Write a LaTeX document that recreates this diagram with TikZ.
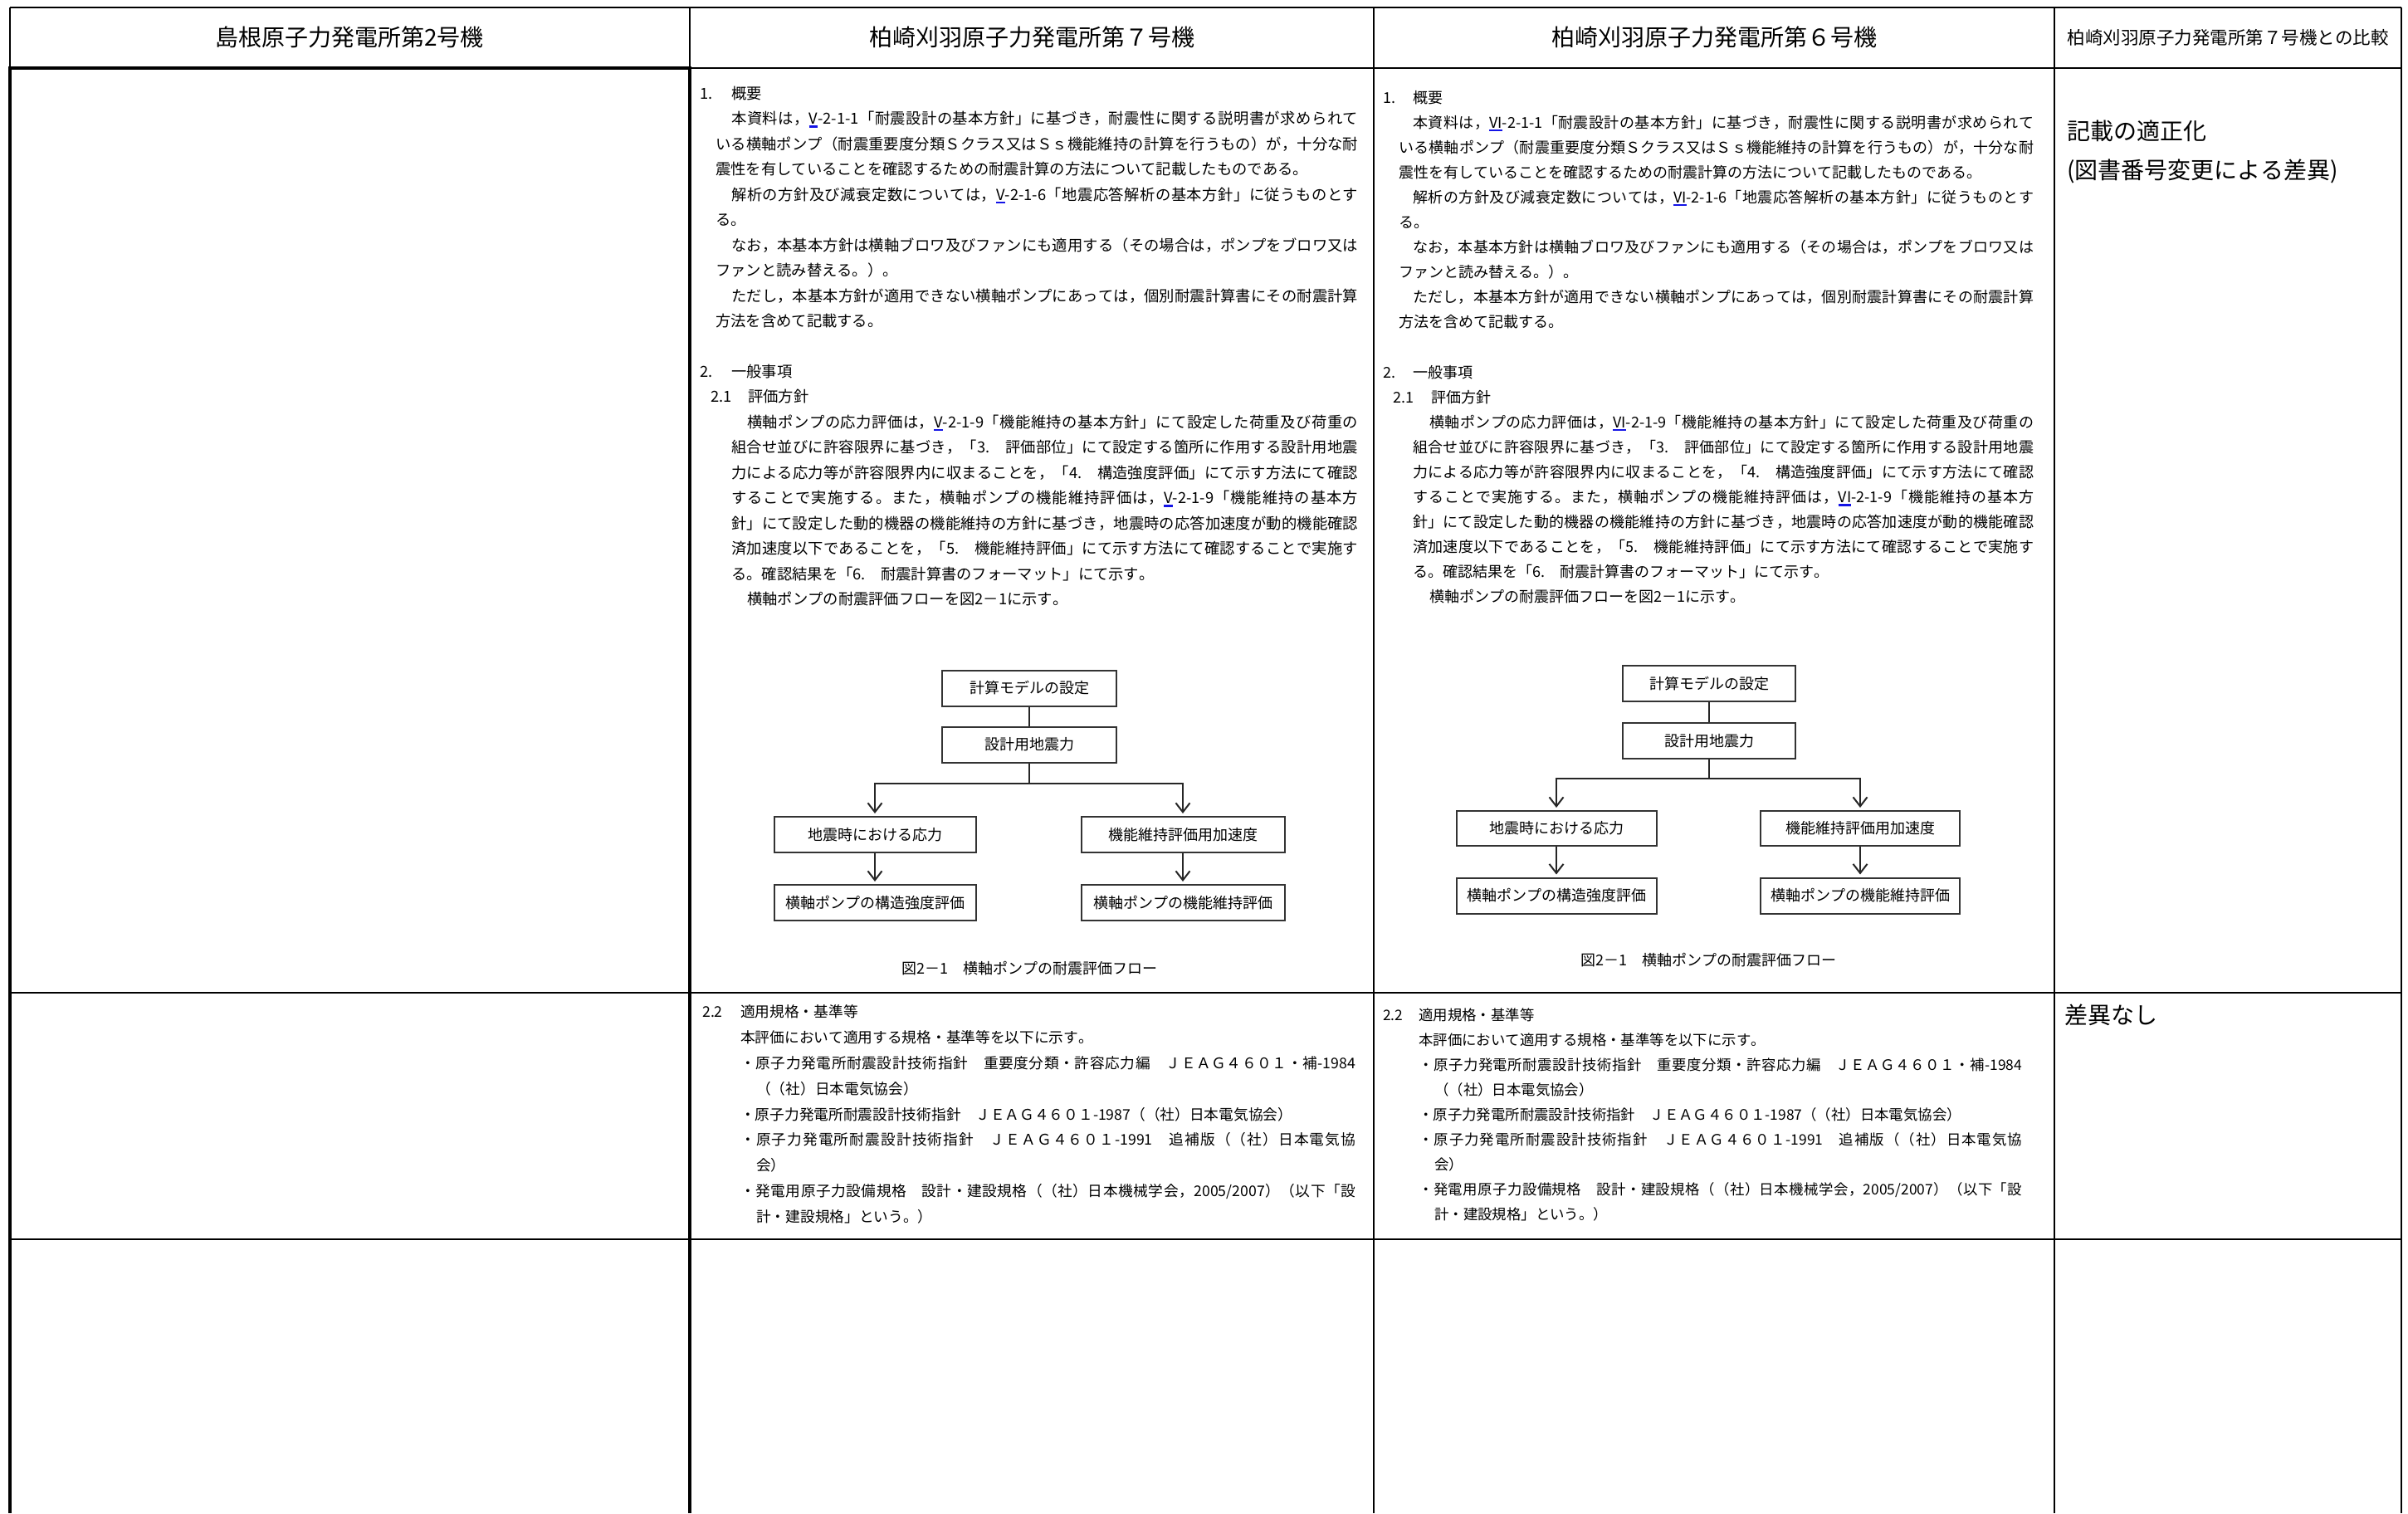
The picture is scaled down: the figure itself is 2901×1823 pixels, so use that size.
\documentclass[tikz,border=0pt]{standalone}
\usepackage{fontspec}
\setmainfont{Noto Sans CJK JP}
\usetikzlibrary{arrows.meta}
\newcount\cjkc
\newcommand\cjkrange[2]{\cjkc=#1\relax
  \loop \XeTeXcharclass\cjkc=7 \advance\cjkc by 1 \ifnum\cjkc<#2 \repeat}
\cjkrange{"3000}{"3100}
\cjkrange{"4E00}{"A000}
\cjkrange{"FF00}{"FFF0}
\XeTeXinterchartokenstate=1
\newcommand\cjkglue{\hskip0pt plus 4pt\relax}
\XeTeXinterchartoks 7 7 = {\cjkglue}
\XeTeXinterchartoks 0 7 = {\cjkglue}
\XeTeXinterchartoks 7 0 = {\cjkglue}
\definecolor{ublue}{RGB}{20,20,230}
\newsavebox\ubox
\newcommand\bu[1]{\sbox\ubox{#1}\rlap{\textcolor{ublue}{\rule[-4pt]{\wd\ubox}{2.6pt}}}\usebox\ubox}
\newcommand\jl[2]{\hbox to #1pt{#2}}
\tikzset{
  tline/.style={line width=2.2pt, black},
  tthick/.style={line width=4.6pt, black},
  hdr/.style={inner sep=0pt, font=\fontsize{28}{34}\selectfont},
  hdrs/.style={inner sep=0pt, font=\fontsize{21.5}{26}\selectfont},
  note/.style={anchor=west, inner sep=0pt, font=\fontsize{28}{34}\selectfont},
  txtA/.style={anchor=north west, inner sep=0pt, align=left, font=\fontsize{18.3}{30.5}\selectfont},
  txtB/.style={anchor=north west, inner sep=0pt, align=left, font=\fontsize{17.7}{30.8}\selectfont},
  txtC/.style={anchor=north west, inner sep=0pt, align=left, font=\fontsize{18}{30.1}\selectfont},
  txtD/.style={anchor=north west, inner sep=0pt, align=left, font=\fontsize{17.4}{30}\selectfont},
  fbox/.style={draw=black!80, line width=2pt, inner sep=0pt, minimum height=43pt, font=\fontsize{18}{22}\selectfont},
  figcap/.style={inner sep=0pt, font=\fontsize{18}{22}\selectfont},
  link/.style={line width=2pt, black!85},
  arr/.style={link, -{Straight Barb[length=11pt,width=17pt,line width=2pt]}, shorten >=3pt},
}
\begin{document}
\begin{tikzpicture}[x=1pt,y=-1pt]
\useasboundingbox (0,0) rectangle (2901,1823);
\fill[white] (0,0) rectangle (2901,1823);

% ---------- table grid ----------
\draw[tline] (12,9) -- (2893,9);
\draw[tline] (831,82) -- (2893,82);
\draw[tline] (12,9) -- (12,82);
\draw[tline] (831,9) -- (831,82);
\draw[tline] (1655,9) -- (1655,1823);
\draw[tline] (2475,9) -- (2475,1823);
\draw[tline] (2893,9) -- (2893,1823);
\draw[tline] (12,1196) -- (2893,1196);
\draw[tline] (12,1493) -- (2893,1493);
\draw[tthick] (10,82) -- (833,82);
\draw[tthick] (12,80) -- (12,1823);
\draw[tthick] (831,80) -- (831,1823);

% ---------- headers ----------
\node[hdr] (h1) at (421,45) {島根原子力発電所第2号機};
\node[hdr] (h2) at (1243,45) {柏崎刈羽原子力発電所第７号機};
\node[hdr] (h3) at (2065,45) {柏崎刈羽原子力発電所第６号機};
\node[hdrs] (h4) at (2684,45) {柏崎刈羽原子力発電所第７号機との比較};

% ---------- column 2 (KK7) ----------
\node[txtA] (s1a) at (843,97.6) {%
\strut\makebox[38pt][l]{1.}概要\\
\strut\hspace*{38pt}\jl{755}{本資料は，\bu{V}-2-1-1「耐震設計の基本方針」に基づき，耐震性に関する説明書が求められて}\\
\strut\hspace*{19pt}\jl{774}{いる横軸ポンプ（耐震重要度分類Ｓクラス又はＳｓ機能維持の計算を行うもの）が，十分な耐}\\
\strut\hspace*{19pt}震性を有していることを確認するための耐震計算の方法について記載したものである。\\
\strut\hspace*{38pt}\jl{755}{解析の方針及び減衰定数については，\bu{V}-2-1-6「地震応答解析の基本方針」に従うものとす}\\
\strut\hspace*{19pt}る。\\
\strut\hspace*{38pt}\jl{755}{なお，本基本方針は横軸ブロワ及びファンにも適用する（その場合は，ポンプをブロワ又は}\\
\strut\hspace*{19pt}ファンと読み替える。）。\\
\strut\hspace*{38pt}\jl{755}{ただし，本基本方針が適用できない横軸ポンプにあっては，個別耐震計算書にその耐震計算}\\
\strut\hspace*{19pt}方法を含めて記載する。};

\node[txtA] (s2a) at (843,432.6) {%
\strut\makebox[38pt][l]{2.}一般事項\\
\strut\hspace*{13pt}\makebox[45pt][l]{2.1}評価方針\\
\strut\hspace*{57pt}\jl{736}{横軸ポンプの応力評価は，\bu{V}-2-1-9「機能維持の基本方針」にて設定した荷重及び荷重の}\\
\strut\hspace*{38pt}\jl{755}{組合せ並びに許容限界に基づき，「3.　評価部位」にて設定する箇所に作用する設計用地震}\\
\strut\hspace*{38pt}\jl{755}{力による応力等が許容限界内に収まることを，「4.　構造強度評価」にて示す方法にて確認}\\
\strut\hspace*{38pt}\jl{755}{することで実施する。また，横軸ポンプの機能維持評価は，\bu{V}-2-1-9「機能維持の基本方}\\
\strut\hspace*{38pt}\jl{755}{針」にて設定した動的機器の機能維持の方針に基づき，地震時の応答加速度が動的機能確認}\\
\strut\hspace*{38pt}\jl{755}{済加速度以下であることを，「5.　機能維持評価」にて示す方法にて確認することで実施す}\\
\strut\hspace*{38pt}る。確認結果を「6.　耐震計算書のフォーマット」にて示す。\\
\strut\hspace*{57pt}横軸ポンプの耐震評価フローを図2－1に示す。};

\node[fbox, minimum width=210pt] (a1) at (1240,829) {計算モデルの設定};
\node[fbox, minimum width=210pt] (a2) at (1240,897) {設計用地震力};
\node[fbox, minimum width=243pt] (a3) at (1054,1005.5) {地震時における応力};
\node[fbox, minimum width=245pt] (a4) at (1425,1005.5) {機能維持評価用加速度};
\node[fbox, minimum width=243pt] (a5) at (1054,1087.5) {横軸ポンプの構造強度評価};
\node[fbox, minimum width=245pt] (a6) at (1425,1087.5) {横軸ポンプの機能維持評価};
\coordinate (aj) at (1240,944);
\draw[link] (a1) -- (a2);
\draw[link] (a2) -- (aj);
\draw[arr] (aj) -| (a3);
\draw[arr] (aj) -| (a4);
\draw[arr] (a3) -- (a5);
\draw[arr] (a4) -- (a6);
\node[figcap] (acap) at (1240,1167) {図2－1　横軸ポンプの耐震評価フロー};

\node[txtB] (s3a) at (846,1204.2) {%
\strut\makebox[46pt][l]{2.2}適用規格・基準等\\
\strut\hspace*{46pt}本評価において適用する規格・基準等を以下に示す。\\
\strut\hspace*{46pt}\jl{741}{・原子力発電所耐震設計技術指針　重要度分類・許容応力編　ＪＥＡＧ４６０１・補-1984}\\
\strut\hspace*{65pt}（（社）日本電気協会）\\
\strut\hspace*{46pt}・原子力発電所耐震設計技術指針　ＪＥＡＧ４６０１-1987（（社）日本電気協会）\\
\strut\hspace*{46pt}\jl{741}{・原子力発電所耐震設計技術指針　ＪＥＡＧ４６０１-1991　追補版（（社）日本電気協}\\
\strut\hspace*{65pt}会）\\
\strut\hspace*{46pt}\jl{741}{・発電用原子力設備規格　設計・建設規格（（社）日本機械学会，2005/2007）（以下「設}\\
\strut\hspace*{65pt}計・建設規格」という。）};

% ---------- column 3 (KK6) ----------
\node[txtC] (s1b) at (1666,102.8) {%
\strut\makebox[36pt][l]{1.}概要\\
\strut\hspace*{36pt}\jl{748}{本資料は，\bu{VI}-2-1-1「耐震設計の基本方針」に基づき，耐震性に関する説明書が求められて}\\
\strut\hspace*{19pt}\jl{765}{いる横軸ポンプ（耐震重要度分類Ｓクラス又はＳｓ機能維持の計算を行うもの）が，十分な耐}\\
\strut\hspace*{19pt}震性を有していることを確認するための耐震計算の方法について記載したものである。\\
\strut\hspace*{36pt}\jl{748}{解析の方針及び減衰定数については，\bu{VI}-2-1-6「地震応答解析の基本方針」に従うものとす}\\
\strut\hspace*{19pt}る。\\
\strut\hspace*{36pt}\jl{748}{なお，本基本方針は横軸ブロワ及びファンにも適用する（その場合は，ポンプをブロワ又は}\\
\strut\hspace*{19pt}ファンと読み替える。）。\\
\strut\hspace*{36pt}\jl{748}{ただし，本基本方針が適用できない横軸ポンプにあっては，個別耐震計算書にその耐震計算}\\
\strut\hspace*{19pt}方法を含めて記載する。};

\node[txtC] (s2b) at (1666,433.8) {%
\strut\makebox[36pt][l]{2.}一般事項\\
\strut\hspace*{12pt}\makebox[46pt][l]{2.1}評価方針\\
\strut\hspace*{56pt}\jl{728}{横軸ポンプの応力評価は，\bu{VI}-2-1-9「機能維持の基本方針」にて設定した荷重及び荷重の}\\
\strut\hspace*{36pt}\jl{748}{組合せ並びに許容限界に基づき，「3.　評価部位」にて設定する箇所に作用する設計用地震}\\
\strut\hspace*{36pt}\jl{748}{力による応力等が許容限界内に収まることを，「4.　構造強度評価」にて示す方法にて確認}\\
\strut\hspace*{36pt}\jl{748}{することで実施する。また，横軸ポンプの機能維持評価は，\bu{VI}-2-1-9「機能維持の基本方}\\
\strut\hspace*{36pt}\jl{748}{針」にて設定した動的機器の機能維持の方針に基づき，地震時の応答加速度が動的機能確認}\\
\strut\hspace*{36pt}\jl{748}{済加速度以下であることを，「5.　機能維持評価」にて示す方法にて確認することで実施す}\\
\strut\hspace*{36pt}る。確認結果を「6.　耐震計算書のフォーマット」にて示す。\\
\strut\hspace*{56pt}横軸ポンプの耐震評価フローを図2－1に示す。};

\node[fbox, minimum width=208pt] (b1) at (2059,823.5) {計算モデルの設定};
\node[fbox, minimum width=208pt] (b2) at (2059,892.5) {設計用地震力};
\node[fbox, minimum width=241pt, minimum height=42pt] (b3) at (1875,998) {地震時における応力};
\node[fbox, minimum width=240pt, minimum height=42pt] (b4) at (2241,998) {機能維持評価用加速度};
\node[fbox, minimum width=241pt] (b5) at (1875,1079) {横軸ポンプの構造強度評価};
\node[fbox, minimum width=240pt] (b6) at (2241,1079) {横軸ポンプの機能維持評価};
\coordinate (bj) at (2059,938);
\draw[link] (b1) -- (b2);
\draw[link] (b2) -- (bj);
\draw[arr] (bj) -| (b3);
\draw[arr] (bj) -| (b4);
\draw[arr] (b3) -- (b5);
\draw[arr] (b4) -- (b6);
\node[figcap] (bcap) at (2058,1157) {図2－1　横軸ポンプの耐震評価フロー};

\node[txtD] (s3b) at (1666,1208.6) {%
\strut\makebox[43pt][l]{2.2}適用規格・基準等\\
\strut\hspace*{43pt}本評価において適用する規格・基準等を以下に示す。\\
\strut\hspace*{43pt}\jl{727}{・原子力発電所耐震設計技術指針　重要度分類・許容応力編　ＪＥＡＧ４６０１・補-1984}\\
\strut\hspace*{62pt}（（社）日本電気協会）\\
\strut\hspace*{43pt}・原子力発電所耐震設計技術指針　ＪＥＡＧ４６０１-1987（（社）日本電気協会）\\
\strut\hspace*{43pt}\jl{727}{・原子力発電所耐震設計技術指針　ＪＥＡＧ４６０１-1991　追補版（（社）日本電気協}\\
\strut\hspace*{62pt}会）\\
\strut\hspace*{43pt}\jl{727}{・発電用原子力設備規格　設計・建設規格（（社）日本機械学会，2005/2007）（以下「設}\\
\strut\hspace*{62pt}計・建設規格」という。）};

% ---------- column 4 (comparison) ----------
\node[note] (n1) at (2490,158) {記載の適正化};
\node[note] (n2) at (2490,206) {(図書番号変更による差異)};
\node[note] (n3) at (2487,1223) {差異なし};
\end{tikzpicture}
\end{document}
